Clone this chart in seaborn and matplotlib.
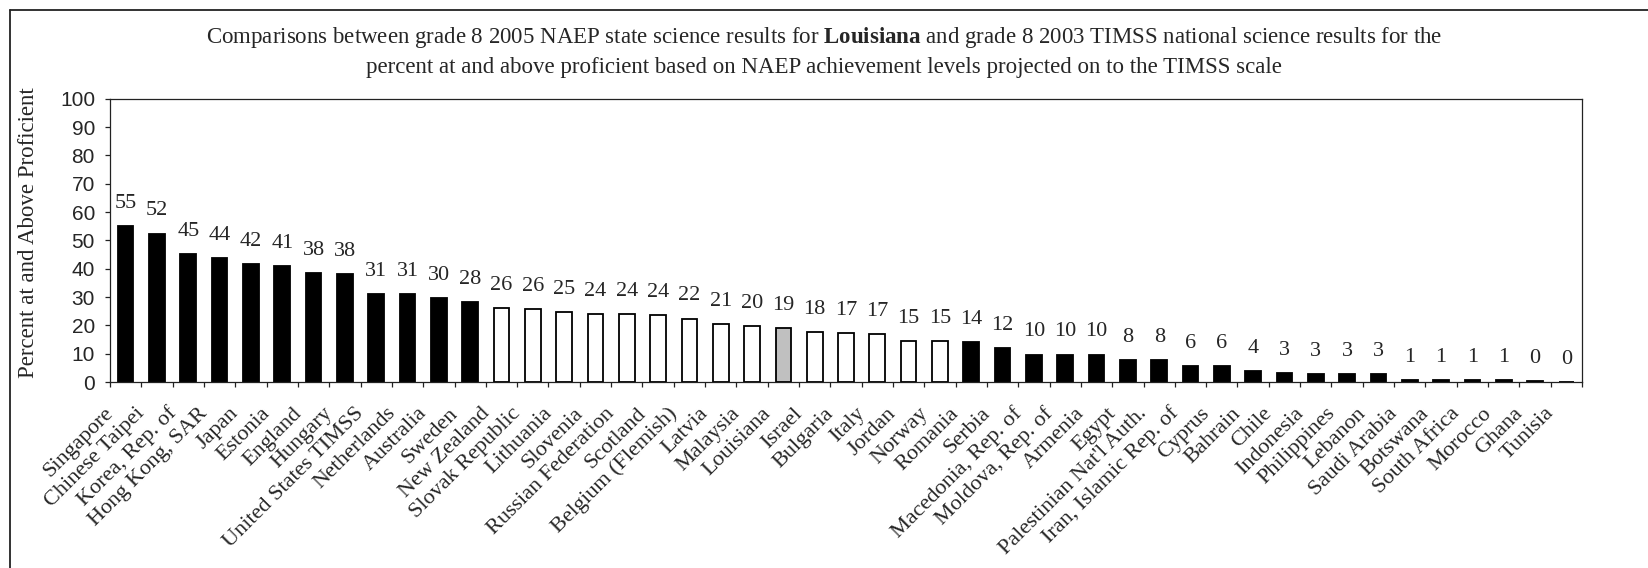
import matplotlib
matplotlib.use("Agg")
import matplotlib.pyplot as plt
from matplotlib.lines import Line2D
from matplotlib.ticker import FixedLocator
from matplotlib.transforms import ScaledTranslation
import seaborn as sns

# Percent at and above proficient (NAEP levels projected on to the TIMSS scale)
countries = [
    "Singapore", "Chinese Taipei", "Korea, Rep. of", "Hong Kong, SAR", "Japan",
    "Estonia", "England", "Hungary", "United States TIMSS", "Netherlands",
    "Australia", "Sweden", "New Zealand", "Slovak Republic", "Lithuania",
    "Slovenia", "Russian Federation", "Scotland", "Belgium (Flemish)", "Latvia",
    "Malaysia", "Louisiana", "Israel", "Bulgaria", "Italy",
    "Jordan", "Norway", "Romania", "Serbia", "Macedonia, Rep. of",
    "Moldova, Rep. of", "Armenia", "Egypt", "Palestinian Nat'l Auth.", "Iran, Islamic Rep. of",
    "Cyprus", "Bahrain", "Chile", "Indonesia", "Philippines",
    "Lebanon", "Saudi Arabia", "Botswana", "South Africa", "Morocco",
    "Ghana", "Tunisia",
]
percent_proficient = [
    55.2, 52.4, 45.2, 43.9, 41.8,
    41.1, 38.4, 38.2, 31.1, 31.1,
    29.8, 28.2, 26.1, 25.6, 24.6,
    23.9, 23.9, 23.6, 22.4, 20.6,
    19.6, 18.9, 17.6, 17.4, 16.8,
    14.6, 14.6, 14.0, 11.9, 9.7,
    9.7, 9.7, 7.6, 7.6, 5.6,
    5.6, 3.9, 3.3, 2.7, 2.7,
    2.7, 0.8, 0.8, 0.8, 0.8,
    0.4, 0.0,
]
# Comparison with Louisiana: H = higher, N = not significantly different,
# L = lower, S = the state itself
comparison = (
    ["H"] * 12
    + ["N"] * 9 + ["S"] + ["N"] * 5
    + ["L"] * 20
)
y_ticks = list(range(0, 101, 10))

title_line1 = (r"Comparisons between grade 8 2005 NAEP state science results for "
               r"$\mathbf{Louisiana}$ and grade 8 2003 TIMSS national science results for the")
title_line2 = ("percent at and above proficient based on NAEP achievement levels "
               "projected on to the TIMSS scale")
y_label = "Percent at and Above Proficient"

fill_for = {"H": "#000000", "L": "#000000", "N": "#ffffff", "S": "#c0c0c0"}
bar_colors = [fill_for[c] for c in comparison]

sns.set_theme(style="white")
plt.rcParams["font.family"] = ["Liberation Serif", "DejaVu Serif"]
plt.rcParams["mathtext.fontset"] = "custom"
plt.rcParams["mathtext.rm"] = "Liberation Serif"
plt.rcParams["mathtext.bf"] = "Liberation Serif:bold"

W, H = 1648, 568
fig = plt.figure(figsize=(W / 100, H / 100), dpi=100)
fig.patch.set_facecolor("white")

ax_left, ax_right, ax_top, ax_bottom = 110, 1582, 98.7, 382
ax = fig.add_axes([ax_left / W, 1 - ax_bottom / H,
                   (ax_right - ax_left) / W, (ax_bottom - ax_top) / H])

sns.barplot(x=countries, y=percent_proficient, hue=countries, order=countries,
            hue_order=countries, palette=bar_colors, saturation=1, legend=False,
            dodge=False, width=0.5, edgecolor="black", linewidth=1.3, ax=ax)

ax.set_xlim(-0.5, len(countries) - 0.5)
ax.set_ylim(0, 100)
ax.set_facecolor("white")
for s in ax.spines.values():
    s.set_visible(True)
    s.set_color("#222222")
    s.set_linewidth(0.9)

# y axis
ax.yaxis.set_major_locator(FixedLocator(y_ticks))
ax.set_yticklabels([str(t) for t in y_ticks], family="Liberation Sans", fontsize=15)
ax.tick_params(axis="y", which="major", direction="out", length=3.8, width=0.9,
               color="#222222", pad=7, left=True)

# x axis: labels at bar centers, tick marks on category boundaries
ax.set_xticks(range(len(countries)))
ax.xaxis.set_minor_locator(FixedLocator([i - 0.5 for i in range(len(countries) + 1)]))
ax.tick_params(axis="x", which="major", length=0, pad=17, bottom=True)
ax.tick_params(axis="x", which="minor", direction="out", length=3.8, width=0.9,
               color="#222222", bottom=True)
ax.set_xticklabels(countries, rotation=45, ha="right", va="center",
                   rotation_mode="anchor", fontsize=16, family="Liberation Serif")
# nudge the slanted names so their ends sit left of the bar centers
shift = ScaledTranslation(-15 / 100, -5 / 100, fig.dpi_scale_trans)
for lab in ax.get_xticklabels():
    lab.set_transform(lab.get_transform() + shift)
ax.set_xlabel("")
ax.set_ylabel("")

# value labels above each bar
for i, v in enumerate(percent_proficient):
    ax.annotate(f"{v:.0f}", xy=(i, v), xytext=(0, 13), textcoords="offset points",
                ha="center", va="baseline", fontsize=16, family="Liberation Serif",
                annotation_clip=False)

# titles and axis label
fig.text(0.5, 1 - 43 / H, title_line1, ha="center", va="baseline", fontsize=16.5)
fig.text(0.5, 1 - 73 / H, title_line2, ha="center", va="baseline", fontsize=16.5)
fig.text(29 / W, 1 - 233 / H, y_label, rotation=90, ha="center", va="center",
         fontsize=16.5)

# outer chart frame
fx, fy = 9.5 / W, 1 - 9.5 / H
fig.add_artist(Line2D([fx, fx], [0, fy], transform=fig.transFigure,
                      color="#222222", linewidth=1.3))
fig.add_artist(Line2D([fx, 1], [fy, fy], transform=fig.transFigure,
                      color="#222222", linewidth=1.3))

fig.savefig("out.png", dpi=100, facecolor="white")
